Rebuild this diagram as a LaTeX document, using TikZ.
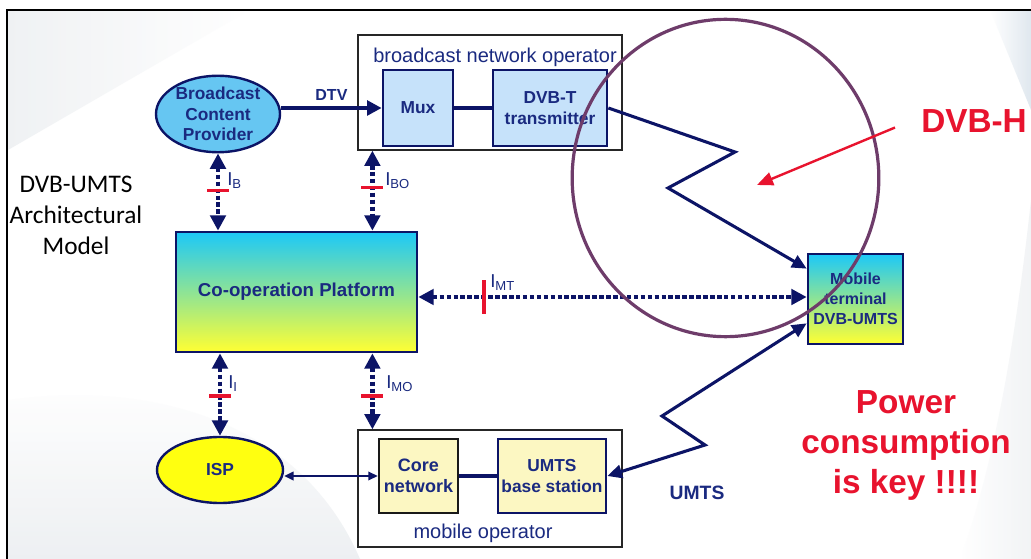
\documentclass[tikz,border=0pt]{standalone}
\usepackage{fontspec}
\setmainfont{Liberation Sans}
\newfontfamily\calib{Carlito}
\usetikzlibrary{arrows.meta,shapes.geometric,calc}
\definecolor{navy}{HTML}{0C1466}
\definecolor{txtblue}{HTML}{1A2A80}
\definecolor{lblue}{HTML}{C6E2FA}
\definecolor{ellblue}{HTML}{66C6F2}
\definecolor{cyanT}{HTML}{1CC8F8}
\definecolor{yelB}{HTML}{FFFF33}
\definecolor{lyel}{HTML}{FCF7C2}
\definecolor{ispyel}{HTML}{FFFF10}
\definecolor{myred}{HTML}{E8132E}
\definecolor{purp}{HTML}{6E3C6A}
\definecolor{bggray}{HTML}{E9ECEF}
\definecolor{bgblue}{HTML}{D3DEE8}
\begin{document}
\begin{tikzpicture}[x=0.75pt,y=-0.75pt,
  boxtxt/.style={font=\fontsize{13}{15.5}\selectfont\bfseries, text=txtblue, align=center},
  bluebox/.style={boxtxt, draw=navy, line width=2pt, fill=lblue, inner sep=0pt},
  yelbox/.style={boxtxt, draw=navy, line width=2pt, fill=lyel, inner sep=0pt},
  gradbox/.style={boxtxt, draw=navy, line width=2pt, top color=cyanT, bottom color=yelB, inner sep=0pt},
  opbox/.style={draw=black!85, line width=0.9pt, fill=white, inner sep=0pt},
  oval/.style={boxtxt, ellipse, draw=navy, line width=1.8pt, inner sep=0pt},
  dotarr/.style={draw=navy, line width=3.2pt, dash pattern=on 3.4pt off 1.8pt,
    {Triangle[length=11.5pt,width=11.5pt]}-{Triangle[length=11.5pt,width=11.5pt]}},
  solidarr/.style={draw=navy, line width=2.8pt, -{Triangle[length=11pt,width=11pt]}},
  radio/.style={draw=navy, line width=2.3pt, line join=miter},
  htick/.style={fill=myred, inner sep=0pt, minimum width=16.5pt, minimum height=2.8pt},
  vtick/.style={fill=myred, inner sep=0pt, minimum width=2.8pt, minimum height=26pt},
  ilabel/.style={font=\fontsize{14}{16}\selectfont, text=txtblue, inner sep=0pt, anchor=west},
  redtxt/.style={font=\fontsize{25}{30}\selectfont\bfseries, text=myred, align=center, inner sep=0pt}
]
% canvas
\useasboundingbox (0,0) rectangle (1031,559);
\fill[white] (0,0) rectangle (1031,559);
% faint background swooshes
\shade[left color=bggray, right color=white, opacity=0.7] (8,10) -- (250,10) -- (8,150) -- cycle;
\shade[top color=white, bottom color=bggray, opacity=0.8] (8,400) .. controls (150,380) and (300,420) .. (360,559) -- (8,559) -- cycle;
\shade[left color=white, right color=bggray, opacity=0.6] (960,559) .. controls (1000,450) and (1020,300) .. (1031,200) -- (1031,559) -- cycle;
\shade[left color=white, right color=bgblue, opacity=0.7] (990,10) -- (1031,10) -- (1031,110) -- cycle;
% frame
\draw[black, line width=1.6pt] (7,559) -- (7,10) -- (1031,10);

% left title
\node[font=\calib\fontsize{19}{23}\selectfont, align=center, anchor=north, inner sep=0pt] (title) at (76,176) {DVB-UMTS\\Architectural\\Model};

% operator boxes
\node[opbox, minimum width=198pt, minimum height=86.25pt] (bno) at (490,92.5) {};
\node[font=\fontsize{15}{18}\selectfont, text=txtblue, anchor=base, inner sep=0pt] (bnotxt) at (495,63) {broadcast network operator};
\node[opbox, minimum width=198pt, minimum height=87.75pt] (mo) at (490,488.5) {};
\node[font=\fontsize{15}{18}\selectfont, text=txtblue, anchor=base, inner sep=0pt] (motxt) at (483,538) {mobile operator};

% boxes
\node[bluebox, minimum width=52.5pt, minimum height=57pt] (mux) at (418,108) {Mux};
\node[bluebox, minimum width=85.5pt, minimum height=57pt] (dvbt) at (550,108) {DVB-T\\transmitter};
\node[oval, fill=ellblue, minimum width=93pt, minimum height=49.5pt] (bcp) at (218,114) {Broadcast\\Content\\Provider};
\node[gradbox, font=\fontsize{14}{16}\selectfont\bfseries, minimum width=180.75pt, minimum height=90pt] (coop) at (296.5,292) {Co-operation Platform};
\node[gradbox, font=\fontsize{12}{15}\selectfont\bfseries, minimum width=71.25pt, minimum height=67.5pt] (mt) at (855.5,299) {Mobile\\terminal\\DVB-UMTS};
\node[oval, fill=ispyel, minimum width=94.5pt, minimum height=49.5pt] (isp) at (220,470) {ISP};
\node[yelbox, draw=black!90, font=\fontsize{13.5}{16}\selectfont\bfseries, minimum width=59.25pt, minimum height=55.5pt] (core) at (418.5,476) {Core\\network};
\node[yelbox, minimum width=81pt, minimum height=55.5pt] (ubs) at (552,476) {UMTS\\base station};

% solid links
\draw[solidarr] (mux.west -| bcp.east) -- (mux.west) node[midway, above=1pt, font=\fontsize{12}{14}\selectfont\bfseries, text=txtblue] (dtv) {DTV};
\draw[draw=navy, line width=3pt] (mux.east) -- (dvbt.west);
\draw[draw=navy, line width=3pt] (core.east) -- (ubs.west);
\draw[draw=navy, line width=1pt, {Triangle[length=7pt,width=6.5pt]}-{Triangle[length=7pt,width=6.5pt]}] (isp.east |- core.west) -- (core.west);

% interfaces
\coordinate (bo) at ($(bno.south west)+(15,0)$);
\coordinate (moc) at ($(mo.north west)+(15,0)$);
\draw[dotarr] (bcp.south) -- (bcp.south |- coop.north) node[pos=0.48, htick] (tb) {};
\draw[dotarr] (bo) -- (bo |- coop.north) node[pos=0.46, htick] (tbo) {};
\draw[dotarr] (isp.north |- coop.south) -- (isp.north) node[pos=0.52, htick] (ti) {};
\draw[dotarr] (moc |- coop.south) -- (moc) node[pos=0.56, htick] (tmo) {};
\coordinate (mtl) at ($(coop.east)+(0,5)$);
\draw[dotarr, line width=2.8pt] (mtl) -- (mtl -| mt.west) node[pos=0.17, vtick] (tmt) {};

\node[ilabel] (lb) at (227,181) {I\textsubscript{B}};
\node[ilabel] (lbo) at (385,181) {I\textsubscript{BO}};
\node[ilabel] (li) at (228,384) {I\textsubscript{I}};
\node[ilabel] (lmo) at (386,384) {I\textsubscript{MO}};
\node[ilabel] (lmt) at (490,283) {I\textsubscript{MT}};

% radio links
\coordinate (z1) at (735,152);
\coordinate (z2) at (668,188);
\coordinate (mtin) at ($(mt.north west)+(0,16)$);
\draw[radio, -{Triangle[length=11pt,width=10pt]}] (dvbt.east) -- (z1) -- (z2) -- (mtin);
\coordinate (u1) at (662,416);
\coordinate (u2) at (705,445);
\coordinate (mtu) at ($(mt.south west)+(0,-22)$);
\draw[radio, {Triangle[length=11pt,width=10pt]}-{Triangle[length=11pt,width=10pt]}] (mtu) -- (u1) -- (u2) -- (ubs.east);
\node[font=\fontsize{14.5}{17}\selectfont\bfseries, text=txtblue, inner sep=0pt] (umts) at (697,493) {UMTS};

% DVB-H highlight
\draw[purp, line width=2.4pt] (725.5,178) ellipse [x radius=115pt, y radius=119pt];
\node[redtxt, font=\fontsize{25}{30}\selectfont\bfseries, anchor=base west] (dvbh) at (921,133) {DVB-H};
\coordinate (dvbhtip) at (757,185);
\draw[myred, line width=1.8pt, -{Triangle[length=12pt,width=10pt]}] ($(dvbh.west)+(-26,6)$) -- (dvbhtip);

\node[redtxt, anchor=north] (power) at (906,390) {Power\\consumption\\is key !!!!};
\end{tikzpicture}
\end{document}
